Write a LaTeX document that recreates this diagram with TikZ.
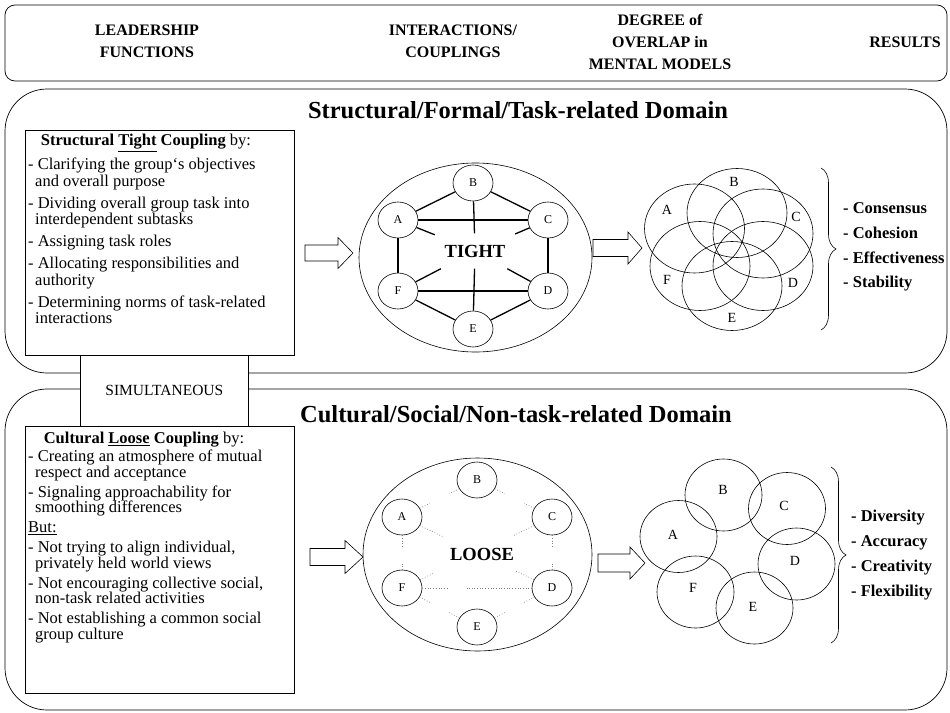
\documentclass[tikz,border=0pt]{standalone}
\usepackage{fontspec}
\setmainfont{Liberation Serif}
\usetikzlibrary{calc,decorations.pathreplacing,shapes.geometric}
\begin{document}
\begin{tikzpicture}[x=1pt,y=-1pt,
  frame/.style={draw, line width=0.7pt},
  hdr/.style={font=\fontsize{16}{22}\selectfont\bfseries, align=center},
  ttl/.style={font=\fontsize{24.5}{28}\selectfont\bfseries},
  boxttl/.style={font=\fontsize{16.5}{16.5}\selectfont, inner sep=0},
  bodytxt/.style={align=left, anchor=north west, inner sep=0},
  textbox/.style={draw, fill=white, line width=0.7pt, anchor=north west, inner sep=0, minimum width=269pt},
  member/.style={draw, ellipse, fill=white, minimum width=40pt, minimum height=36pt, inner sep=0, line width=0.6pt, font=\fontsize{12}{12}\selectfont},
  net/.style={draw, ellipse, line width=0.6pt},
  tightln/.style={line width=1.3pt},
  looseln/.style={gray, dotted, line width=0.7pt},
  venn/.style={line width=0.6pt},
  vlabel/.style={font=\fontsize{14}{14}\selectfont, inner sep=0},
  res/.style={font=\fontsize{16.5}{24.7}\selectfont\bfseries, align=left, anchor=west, inner sep=0},
  brc/.style={decorate, decoration={brace, amplitude=15pt}, line width=0.6pt},
  barrow/.style={draw, fill=white, line width=0.6pt}
]
\useasboundingbox (0,0) rectangle (950,712);

% header
\draw[frame, rounded corners=10pt] (5,5) rectangle (947,81);
\node[hdr] (h1) at (147,41) {LEADERSHIP\\FUNCTIONS};
\node[hdr] (h2) at (453,41) {INTERACTIONS/\\COUPLINGS};
\node[hdr] (h3) at (660,42) {DEGREE of\\OVERLAP in\\MENTAL MODELS};
\node[hdr] (h4) at (905,42) {RESULTS};

% domain frames
\draw[frame, rounded corners=42pt] (5,89) rectangle (947,373);
\draw[frame, rounded corners=42pt] (5,389) rectangle (947,710);
\node[ttl] (t1) at (518,110) {Structural/Formal/Task-related Domain};
\node[ttl] (t2) at (516,414) {Cultural/Social/Non-task-related Domain};

% simultaneous
\node[draw, fill=white, line width=0.7pt, anchor=north west, minimum width=168pt, minimum height=71pt, inner sep=0, font=\fontsize{15.5}{15.5}\selectfont] (sim) at (80,355) {SIMULTANEOUS};

% text boxes
\node[textbox, minimum height=225pt] (box1) at (25,130) {};
\node[textbox, minimum height=267pt] (box2) at (25,426) {};
\node[boxttl] (box1t) at (146,143) {\textbf{Structural \underline{Tight} Coupling} by:};
\node[boxttl] (box2t) at (144,440) {\textbf{Cultural \underline{Loose} Coupling} by:};

\node[bodytxt, font=\fontsize{16.5}{16.5}\selectfont] (box1b) at (28,158) {%
- Clarifying the group‘s objectives\\
\hspace{7pt}and overall purpose\\[5.5pt]
- Dividing overall group task into\\
\hspace{7pt}interdependent subtasks\\[5.5pt]
- Assigning task roles\\[5.5pt]
- Allocating responsibilities and\\
\hspace{7pt}authority\\[5.5pt]
- Determining norms of task-related\\
\hspace{7pt}interactions};

\node[bodytxt, font=\fontsize{16.5}{15.5}\selectfont] (box2b) at (28,450) {%
- Creating an atmosphere of mutual\\
\hspace{7pt}respect and acceptance\\[4.5pt]
- Signaling approachability for\\
\hspace{7pt}smoothing differences\\[4.5pt]
\underline{But:}\\[4.5pt]
- Not trying to align individual,\\
\hspace{7pt}privately held world views\\[4.5pt]
- Not encouraging collective social,\\
\hspace{7pt}non-task related activities\\[4.5pt]
- Not establishing a common social\\
\hspace{7pt}group culture};

% block arrows
\draw[barrow] (305,245)--(338,245)--(338,237.5)--(353,253)--(338,268.5)--(338,261)--(305,261)--cycle;
\draw[barrow] (593,239.5)--(628,239.5)--(628,232)--(642,248)--(628,264)--(628,256.5)--(593,256.5)--cycle;
\draw[barrow] (310,548.5)--(345,548.5)--(345,540.5)--(363,557)--(345,573.5)--(345,565.5)--(310,565.5)--cycle;
\draw[barrow] (598,554)--(630,554)--(630,547)--(645,563)--(630,579)--(630,572)--(598,572)--cycle;

% TIGHT network
\node[net, minimum width=233pt, minimum height=189pt] (net1) at (475.5,257.5) {};
\node[inner sep=0, minimum width=80pt, minimum height=35pt, font=\fontsize{18.5}{18.5}\selectfont\bfseries] (T) at (475,251) {TIGHT};
\node[member] (tA) at (398,220) {A};
\node[member] (tB) at (473,183) {B};
\node[member] (tC) at (548,220) {C};
\node[member] (tD) at (548,291) {D};
\node[member] (tE) at (473,329) {E};
\node[member] (tF) at (398,291) {F};
\draw[tightln] (tA) -- (tB);
\draw[tightln] (tB) -- (tC);
\draw[tightln] (tA) -- (tC);
\draw[tightln] (tA) -- (tF);
\draw[tightln] (tC) -- (tD);
\draw[tightln] (tF) -- (tD);
\draw[tightln] (tF) -- (tE);
\draw[tightln] (tE) -- (tD);
\foreach \n in {tA,tB,tC,tD,tE,tF} \draw[tightln] (\n) -- (T);

% LOOSE network
\node[net, minimum width=229pt, minimum height=193pt] (net2) at (477.5,554.5) {};
\node[inner sep=0, font=\fontsize{18.5}{18.5}\selectfont\bfseries] (L) at (482,554) {LOOSE};
\coordinate (LC) at (477,553);
\node[member] (lA) at (402,517) {A};
\node[member] (lB) at (477,480) {B};
\node[member] (lC) at (552,517) {C};
\node[member] (lD) at (552,588) {D};
\node[member] (lE) at (477,627) {E};
\node[member] (lF) at (402,588) {F};
\draw[looseln] (lA) -- ($(lA)!0.37!(lB)$);
\draw[looseln] (lB) -- ($(lB)!0.37!(lA)$);
\draw[looseln] (lB) -- ($(lB)!0.37!(lC)$);
\draw[looseln] (lC) -- ($(lC)!0.37!(lB)$);
\draw[looseln] (lA) -- ($(lA)!0.42!(lF)$);
\draw[looseln] (lF) -- ($(lF)!0.35!(lA)$);
\draw[looseln] (lC) -- ($(lC)!0.42!(lD)$);
\draw[looseln] (lD) -- ($(lD)!0.35!(lC)$);
\draw[looseln] (lF) -- ($(lF)!0.37!(lE)$);
\draw[looseln] (lE) -- ($(lE)!0.37!(lF)$);
\draw[looseln] (lE) -- ($(lE)!0.37!(lD)$);
\draw[looseln] (lD) -- ($(lD)!0.37!(lE)$);
\draw[looseln] (lF) -- ($(lF)!0.3!(lD)$);
\draw[looseln] (lD) -- ($(lD)!0.57!(lF)$);
\draw[looseln] (lA) -- ($(lA)!0.54!(LC)$);
\draw[looseln] (lC) -- ($(lC)!0.53!(LC)$);
\draw[looseln] (lF) -- ($(lF)!0.43!(LC)$);
\draw[looseln] (lD) -- ($(lD)!0.5!(LC)$);

% Venn top
\draw[venn] (694.5,228.5) ellipse [x radius=50pt, y radius=44.5pt];
\draw[venn] (737,213) ellipse [x radius=50pt, y radius=44.5pt];
\draw[venn] (763,233.5) ellipse [x radius=50pt, y radius=44.5pt];
\draw[venn] (700,266) ellipse [x radius=50pt, y radius=44.5pt];
\draw[venn] (763,266) ellipse [x radius=50pt, y radius=44.5pt];
\draw[venn] (732,286) ellipse [x radius=50pt, y radius=44.5pt];
\node[vlabel] (vA) at (667,210) {A};
\node[vlabel] (vB) at (734,182) {B};
\node[vlabel] (vC) at (796,217) {C};
\node[vlabel] (vF) at (667,280) {F};
\node[vlabel] (vD) at (793,283) {D};
\node[vlabel] (vE) at (732,318) {E};

% Venn bottom
\draw[venn] (723.5,495) ellipse [x radius=38.5pt, y radius=36pt];
\draw[venn] (787,508.5) ellipse [x radius=38.5pt, y radius=36pt];
\draw[venn] (678.5,536.5) ellipse [x radius=38.5pt, y radius=36pt];
\draw[venn] (796.5,564) ellipse [x radius=38.5pt, y radius=36pt];
\draw[venn] (695.5,592) ellipse [x radius=38.5pt, y radius=36pt];
\draw[venn] (754.5,608) ellipse [x radius=38.5pt, y radius=36pt];
\node[vlabel] (wB) at (723,490) {B};
\node[vlabel] (wC) at (784,506) {C};
\node[vlabel] (wA) at (673,535) {A};
\node[vlabel] (wD) at (795,561) {D};
\node[vlabel] (wF) at (693,588) {F};
\node[vlabel] (wE) at (753,607) {E};

% braces and results
\coordinate (b1t) at (821,168);
\coordinate (b1b) at (821,330);
\draw[brc] (b1t) -- (b1b);
\node[res] (r1) at (843,247) {- Consensus\\- Cohesion\\- Effectiveness\\- Stability};
\coordinate (b2t) at (831,467);
\coordinate (b2b) at (831,643);
\draw[brc] (b2t) -- (b2b);
\node[res] (r2) at (851,555) {- Diversity\\- Accuracy\\- Creativity\\- Flexibility};
\end{tikzpicture}
\end{document}
